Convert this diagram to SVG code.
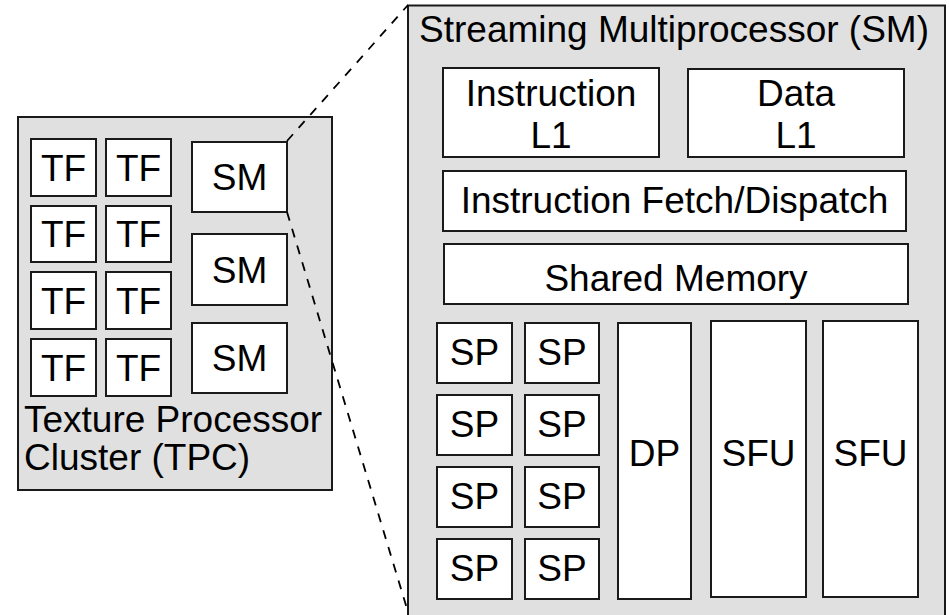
<svg xmlns="http://www.w3.org/2000/svg" width="949" height="615" viewBox="0 0 949 615">
<style>
.bg{fill:#ffffff}
.cont{fill:#e0e0e0;stroke:#1a1a1a;stroke-width:2}
.box{fill:#ffffff;stroke:#1a1a1a;stroke-width:2}
.t{font-family:"Liberation Sans",Arial,sans-serif;font-size:37px;fill:#000000}
.c{text-anchor:middle}
.dash{fill:none;stroke:#000000;stroke-width:1.8;stroke-dasharray:9,8.5}
</style>
<rect class="bg" x="0" y="0" width="949" height="615"/>
<g id="tpc">
<rect class="cont" x="18" y="117" width="314" height="373"/>
<text class="t" x="24" y="432">Texture Processor</text>
<text class="t" x="24" y="470">Cluster (TPC)</text>
</g>
<g id="tf1"><rect class="box" x="31" y="139" width="65" height="57"/><text class="t c" x="63.5" y="180.5">TF</text></g>
<g id="tf2"><rect class="box" x="106" y="139" width="65" height="57"/><text class="t c" x="138.5" y="180.5">TF</text></g>
<g id="tf3"><rect class="box" x="31" y="206" width="65" height="56"/><text class="t c" x="63.5" y="247">TF</text></g>
<g id="tf4"><rect class="box" x="106" y="206" width="65" height="56"/><text class="t c" x="138.5" y="247">TF</text></g>
<g id="tf5"><rect class="box" x="31" y="272" width="65" height="57"/><text class="t c" x="63.5" y="313.5">TF</text></g>
<g id="tf6"><rect class="box" x="106" y="272" width="65" height="57"/><text class="t c" x="138.5" y="313.5">TF</text></g>
<g id="tf7"><rect class="box" x="31" y="339" width="65" height="57"/><text class="t c" x="63.5" y="380.5">TF</text></g>
<g id="tf8"><rect class="box" x="106" y="339" width="65" height="57"/><text class="t c" x="138.5" y="380.5">TF</text></g>
<g id="sm1"><rect class="box" x="192" y="142" width="95" height="70"/><text class="t c" x="239.5" y="190">SM</text></g>
<g id="sm2"><rect class="box" x="192" y="234" width="95" height="71"/><text class="t c" x="239.5" y="282.5">SM</text></g>
<g id="sm3"><rect class="box" x="192" y="323" width="95" height="70"/><text class="t c" x="239.5" y="371">SM</text></g>
<g id="sm-detail">
<rect class="cont" x="408" y="5.5" width="537" height="620"/>
<text class="t c" x="674" y="42">Streaming Multiprocessor (SM)</text>
</g>
<g id="inst-l1"><rect class="box" x="443" y="68" width="216" height="89"/><text class="t c" x="551" y="106">Instruction</text><text class="t c" x="551" y="148">L1</text></g>
<g id="data-l1"><rect class="box" x="688" y="69" width="216" height="88"/><text class="t c" x="796" y="106">Data</text><text class="t c" x="796" y="148">L1</text></g>
<g id="fetch"><rect class="box" x="443" y="171" width="463" height="60"/><text class="t c" x="674.5" y="213">Instruction Fetch/Dispatch</text></g>
<g id="shmem"><rect class="box" x="444" y="244" width="464" height="60"/><text class="t c" x="676" y="291">Shared Memory</text></g>
<g id="sp1"><rect class="box" x="437" y="323" width="75" height="60"/><text class="t c" x="474.5" y="365">SP</text></g>
<g id="sp2"><rect class="box" x="525" y="323" width="74" height="60"/><text class="t c" x="562" y="365">SP</text></g>
<g id="sp3"><rect class="box" x="437" y="395" width="75" height="60"/><text class="t c" x="474.5" y="437">SP</text></g>
<g id="sp4"><rect class="box" x="525" y="395" width="74" height="60"/><text class="t c" x="562" y="437">SP</text></g>
<g id="sp5"><rect class="box" x="437" y="467" width="75" height="60"/><text class="t c" x="474.5" y="509">SP</text></g>
<g id="sp6"><rect class="box" x="525" y="467" width="74" height="60"/><text class="t c" x="562" y="509">SP</text></g>
<g id="sp7"><rect class="box" x="437" y="539" width="75" height="60"/><text class="t c" x="474.5" y="581">SP</text></g>
<g id="sp8"><rect class="box" x="525" y="539" width="74" height="60"/><text class="t c" x="562" y="581">SP</text></g>
<g id="dp"><rect class="box" x="618" y="323" width="73" height="276"/><text class="t c" x="654.5" y="466">DP</text></g>
<g id="sfu1"><rect class="box" x="711" y="321" width="95" height="276"/><text class="t c" x="758.5" y="466">SFU</text></g>
<g id="sfu2"><rect class="box" x="823" y="321" width="95" height="276"/><text class="t c" x="870.5" y="466">SFU</text></g>
<g id="connectors">
<line class="dash" x1="287" y1="141" x2="408" y2="5"/>
<line class="dash" x1="287" y1="212" x2="408" y2="612"/>
</g>
</svg>
